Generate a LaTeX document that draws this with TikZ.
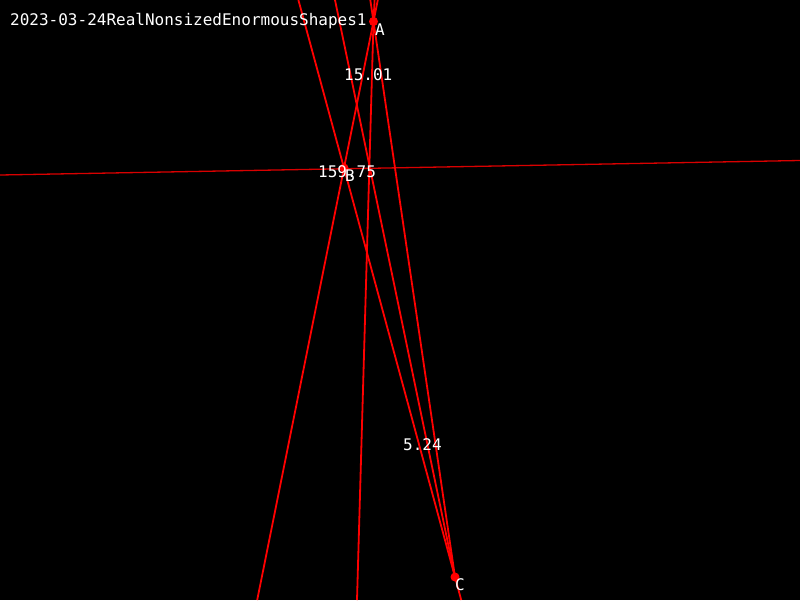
\documentclass[tikz,border=0pt]{standalone}
\usepackage{fontspec}
\setmonofont{DejaVu Sans Mono}
\begin{document}
\begin{tikzpicture}[x=1pt,y=-1pt,
  ln/.style={draw=red,line width=1.8pt},
  thinln/.style={draw=red!85!black,line width=1.3pt},
  dot/.style={circle,fill=red,inner sep=0pt,minimum size=9pt},
  lbl/.style={text=white,font=\ttfamily\fontsize{16}{16}\selectfont,anchor=base west,inner sep=0pt}]
\fill[black] (0,0) rectangle (800,600);
\useasboundingbox (0,0) rectangle (800,600);
% points
\coordinate (A) at (373.5,21.5);
\coordinate (B) at (344,168);
\coordinate (C) at (455,577);
% border coordinates
\coordinate (BCtop) at (298.4,0);
\coordinate (BCbot) at (461.2,600);
\coordinate (ABtop) at (377.8,0);
\coordinate (ABbot) at (257.2,600);
\coordinate (ACtop) at (370.3,0);
\coordinate (Ltop) at (335,0);
\coordinate (Vtop) at (374.6,0);
\coordinate (Vbot) at (357,600);
\coordinate (Hl) at (0,175);
\coordinate (Hr) at (800,160.5);
% lines
\draw[thinln] (Hl) -- (Hr);
\draw[ln] (BCtop) -- (B) -- (C) -- (BCbot);
\draw[ln] (ABtop) -- (A) -- (B) -- (ABbot);
\draw[ln] (ACtop) -- (A) -- (C);
\draw[ln] (Ltop) -- (C);
\draw[ln] (Vtop) -- (A) -- (Vbot);
% dots
\node[dot] (dA) at (A) {};
\node[dot] (dB) at (B) {};
\node[dot] (dC) at (C) {};
% labels
\node[lbl] (title) at (10,25) {2023-03-24RealNonsizedEnormousShapes1};
\node[lbl] (lab1) at (344,80) {15.01};
\node[lbl] (lab2) at (318,177) {159.75};
\node[lbl] (lab3) at (403,450) {5.24};
\node[lbl] (lA) at (375,35) {A};
\node[lbl] (lB) at (345,181) {B};
\node[lbl] (lC) at (455,590) {C};
\end{tikzpicture}
\end{document}
